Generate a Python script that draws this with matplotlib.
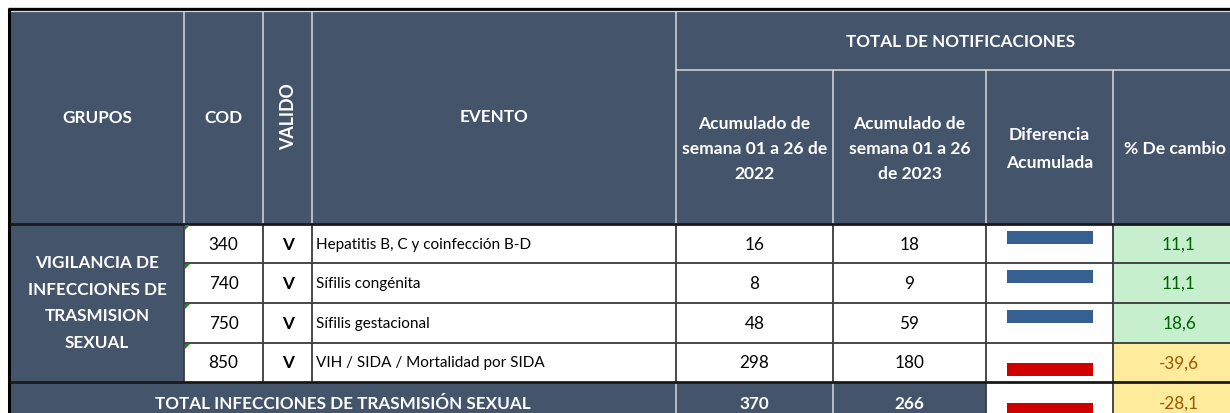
import matplotlib
matplotlib.use("Agg")
import matplotlib.pyplot as plt
from matplotlib.patches import Rectangle, Polygon

# ---------------- data ----------------
grupo = "VIGILANCIA DE\nINFECCIONES DE\nTRASMISION\nSEXUAL"
codes = ["340", "740", "750", "850"]
valid = ["V", "V", "V", "V"]
events = ["Hepatitis B, C y coinfección B-D", "Sífilis congénita",
          "Sífilis gestacional", "VIH / SIDA / Mortalidad por SIDA"]
acum_2022 = [16, 8, 48, 298]
acum_2023 = [18, 9, 59, 180]
pct_change = [11.1, 11.1, 18.6, -39.6]
total_label = "TOTAL INFECCIONES DE TRASMISIÓN SEXUAL"
total_2022 = 370
total_2023 = 266
total_pct = -28.1

headers = ["GRUPOS", "COD", "VALIDO", "EVENTO"]
super_header = "TOTAL DE NOTIFICACIONES"
sub_headers = ["Acumulado de\nsemana 01 a 26 de\n2022", "Acumulado de\nsemana 01 a 26\nde 2023",
               "Diferencia\nAcumulada", "% De cambio"]

# ---------------- style / layout ----------------
W, H = 1230, 413
HDR = "#44546A"
HLINE = "#D9D9D9"
GRID = "#3A3A3A"
GREEN_BG, GREEN_TX = "#C6EFCE", "#006100"
YEL_BG, YEL_TX = "#FFEB9C", "#9C5700"
BLUE, RED = "#376092", "#D00000"
FONT = ["Lato", "DejaVu Sans"]
FS_B = 12.3   # bold header size
FS_N = 12.3   # numbers

xs = [10, 184, 263, 312, 676, 833, 986, 1113, 1245]   # column edges
y_top, y_mid, y_hdr = 12, 70, 224
rows = [224, 263, 303, 343, 382]
y_tot_bot = 425

fig = plt.figure(figsize=(W / 100, H / 100), dpi=100)
ax = fig.add_axes([0, 0, 1, 1])
ax.set_xlim(0, W)
ax.set_ylim(H, 0)
ax.axis("off")


def rect(x0, y0, x1, y1, fc, z=1):
    ax.add_patch(Rectangle((x0, y0), x1 - x0, y1 - y0, facecolor=fc, edgecolor="none", zorder=z))


def hline(y, x0, x1, c, lw, z=3):
    ax.plot([x0, x1], [y, y], color=c, lw=lw, zorder=z, solid_capstyle="butt")


def vline(x, y0, y1, c, lw, z=3):
    ax.plot([x, x], [y0, y1], color=c, lw=lw, zorder=z, solid_capstyle="butt")


def txt(x, y, s, size=FS_N, color="white", weight="normal", ha="center", **kw):
    ax.text(x, y, s, fontsize=size, color=color, fontweight=weight, ha=ha, va="center",
            family=FONT, zorder=5, **kw)


cx = [(xs[i] + xs[i + 1]) / 2 for i in range(len(xs) - 1)]

# ---------------- header ----------------
rect(xs[0], y_top, W + 10, y_hdr, HDR)
hline(9, 8, W + 10, "black", 2.4)
hline(11.3, 10, W + 10, HLINE, 0.9)
vline(9, 8, H + 10, "black", 2.2)
for x in xs[1:5]:
    vline(x, y_top, y_hdr, HLINE, 1.1)
for x in xs[5:8]:
    vline(x, y_mid, y_hdr, HLINE, 1.1)
hline(y_mid, xs[4], W + 10, HLINE, 1.1)

txt(cx[0], 118, headers[0], weight="bold", size=FS_B)
txt(cx[1], 118, headers[1], weight="bold", size=FS_B)
txt(cx[2] + 1, 117, headers[2], weight="bold", size=FS_B + 0.5, rotation=90)
txt(cx[3], 117, headers[3], weight="bold", size=FS_B)
txt((xs[4] + xs[8]) / 2, 42, super_header, weight="bold", size=FS_B)
txt(cx[4], 149, sub_headers[0], weight="bold", size=12.6, linespacing=1.72)
txt(cx[5], 149, sub_headers[1], weight="bold", size=12.6, linespacing=1.72)
txt(cx[6], 149, sub_headers[2], weight="bold", size=12.6, linespacing=1.85)
txt(xs[7] + 11, 149, sub_headers[3], weight="bold", size=12.6, ha="left", clip_on=True)

# ---------------- body ----------------
rect(xs[0], rows[0], xs[1], rows[-1], HDR)
rect(xs[1], rows[0], xs[7], rows[-1], "white")
txt(cx[0], 303, grupo, weight="bold", size=FS_B, linespacing=1.8)

diff = [b - a for a, b in zip(acum_2022, acum_2023)]
bar_x0, bar_w, bar_h = xs[6] + 21, 86, 13

for i in range(len(codes)):
    y0, y1 = rows[i], rows[i + 1]
    yc = (y0 + y1) / 2 + 1
    pos = pct_change[i] >= 0
    rect(xs[7], y0, W + 10, y1, GREEN_BG if pos else YEL_BG)
    txt(cx[1], yc, codes[i], color="black")
    txt(cx[2] + 1, yc, valid[i], color="black", weight="bold")
    txt(xs[3] + 4, yc, events[i], color="black", ha="left", size=11.0)
    txt(cx[4], yc, str(acum_2022[i]), color="black")
    txt(cx[5], yc, str(acum_2023[i]), color="black")
    txt(cx[7], yc, f"{pct_change[i]:.1f}".replace(".", ","),
        color=GREEN_TX if pos else YEL_TX)
    by = y0 + 7 if diff[i] >= 0 else y1 - 6 - bar_h
    ax.barh(by + bar_h / 2, bar_w, height=bar_h, left=bar_x0,
            color=BLUE if diff[i] >= 0 else RED, zorder=4)
    # green "number stored as text" marker
    ax.add_patch(Polygon([(xs[1] + 1, y0 + 1), (xs[1] + 6, y0 + 1), (xs[1] + 1, y0 + 6)],
                         closed=True, facecolor="#1E8C1E", edgecolor="none", zorder=6))

for y in rows[1:-1]:
    hline(y, xs[1], W + 10, GRID, 1.3)
for x in xs[1:8]:
    vline(x, rows[0], rows[-1], GRID, 1.3)
hline(rows[0], xs[0], W + 10, "#1A1A1A", 2.0)

# ---------------- total row ----------------
ty = rows[-1]
rect(xs[0], ty, xs[6], y_tot_bot, HDR)
rect(xs[6], ty, xs[7], y_tot_bot, "white")
rect(xs[7], ty, W + 10, y_tot_bot, YEL_BG)
for x in xs[4:6]:
    vline(x, ty, y_tot_bot, HLINE, 1.1)
for x in xs[6:8]:
    vline(x, ty, y_tot_bot, GRID, 1.3)
hline(rows[-1], xs[0], W + 10, "#1A1A1A", 2.0)
tyc = 404
txt((xs[0] + xs[4]) / 2, tyc, total_label, weight="bold", size=FS_B)
txt(cx[4], tyc, str(total_2022), weight="bold")
txt(cx[5], tyc, str(total_2023), weight="bold")
txt(cx[7], tyc, f"{total_pct:.1f}".replace(".", ","), color=YEL_TX)
tdiff = total_2023 - total_2022
ax.barh(ty + 21 + bar_h / 2, bar_w, height=bar_h, left=bar_x0,
        color=BLUE if tdiff >= 0 else RED, zorder=4)

fig.savefig("out.png", dpi=100)
